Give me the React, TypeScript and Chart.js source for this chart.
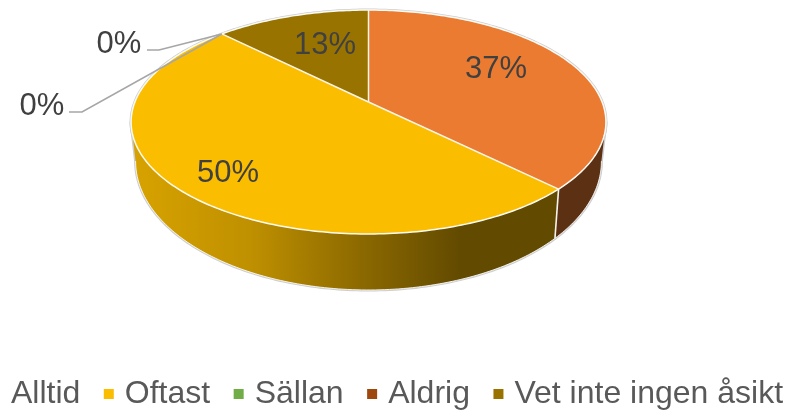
import React, { useEffect, useRef } from "react";
import { Chart, registerables } from "chart.js";

Chart.register(...registerables);

const categories = ["Alltid", "Oftast", "Sällan", "Aldrig", "Vet inte ingen åsikt"];
const shares = [37.4, 50.1, 0, 0, 12.5];
const colours = ["#EA7B30", "#FBBD00", "#70AD47", "#9E480E", "#997300"];

// Canvas is wider than the page so the legend stays on one line and clips, as in the reference.
const PAGE_W = 793;
const PAGE_H = 410;
const CANVAS_LEFT = -91;
const CANVAS_W = 960;
const CANVAS_H = 410;

// Perspective of the pie's top face and its floor, in page pixels.
const view = {
  cx: 368.5, cy: 102, A: 233.6, B: 108.4, k: -0.1786,
  ellipseCx: 368.5, ellipseCy: 122, floorCy: 161.2, floorScale: 1.15, shrink: 0.981,
};
// Where each percentage label sits (page pixels), per category.
const labelCentres: [number, number][] = [[496, 69], [228, 173], [42, 106], [119, 44], [325, 45]];
// Elbows of leader lines for the labels that sit outside the pie.
const leaders: Record<number, [number, number][]> = {
  2: [[82, 112], [69, 112]],
  3: [[159, 50], [147, 50]],
};
const shadeStops: [number, number][] = [[131, 0.86], [250, 0.76], [370, 0.54], [460, 0.39], [610, 0.39]];

const ox = -CANVAS_LEFT;

function project(u: number, v: number) {
  const w = 1 + view.k * v;
  return { x: ox + view.cx + (view.A * u) / w, y: view.cy + (view.B * v) / w };
}
function lower(p: { x: number; y: number }) {
  const c = ox + view.ellipseCx;
  return { x: c + (p.x - c) * view.shrink, y: view.floorCy + (p.y - view.ellipseCy) * view.floorScale };
}
function rim(a0: number, a1: number) {
  const n = Math.max(2, Math.ceil(Math.abs(a1 - a0) * 60));
  const out = [];
  for (let i = 0; i <= n; i++) {
    const a = a0 + ((a1 - a0) * i) / n;
    out.push(project(Math.cos(a), Math.sin(a)));
  }
  return out;
}
function rgb(hex: string) {
  return [1, 3, 5].map((i) => parseInt(hex.slice(i, i + 2), 16));
}
// Clockwise angle range of the part of a slice's rim that faces the viewer (or null).
function frontRange(start: number, end: number): [number, number] | null {
  const right = Math.asin(-view.k);
  const left = Math.PI - right;
  const a0 = Math.max(start, right);
  const a1 = Math.min(end, left);
  return a1 > a0 ? [a0, a1] : null;
}

const pie3d = {
  id: "pie3d",
  beforeDatasetDraw(chart: any, args: any) {
    const ctx: CanvasRenderingContext2D = chart.ctx;
    const arcs = args.meta.data;
    const values: number[] = chart.data.datasets[0].data;
    const total = values.reduce((s, n) => s + n, 0);

    // Side walls
    ctx.save();
    const walls: { i: number; top: { x: number; y: number }[]; bottom: { x: number; y: number }[] }[] = [];
    arcs.forEach((arc: any, i: number) => {
      if (arc.endAngle - arc.startAngle <= 0) return;
      const range = frontRange(arc.startAngle, arc.endAngle);
      if (!range) return;
      const top = rim(range[0], range[1]);
      walls.push({ i, top, bottom: top.map(lower).reverse() });
    });
    const tracePoly = (w: (typeof walls)[number]) => {
      ctx.beginPath();
      [...w.top, ...w.bottom].forEach((p, j) => (j ? ctx.lineTo(p.x, p.y) : ctx.moveTo(p.x, p.y)));
      ctx.closePath();
    };
    walls.forEach((w) => {
      tracePoly(w);
      ctx.lineJoin = "round";
      ctx.strokeStyle = "#cdcdcd";
      ctx.lineWidth = 3;
      ctx.stroke();
    });
    walls.forEach((w) => {
      const [r, g, b] = rgb(colours[w.i]);
      const x0 = shadeStops[0][0];
      const x1 = shadeStops[shadeStops.length - 1][0];
      const grad = ctx.createLinearGradient(ox + x0, 0, ox + x1, 0);
      shadeStops.forEach(([x, f]) => grad.addColorStop((x - x0) / (x1 - x0), `rgb(${r * f},${g * f},${b * f})`));
      tracePoly(w);
      ctx.fillStyle = grad;
      ctx.fill();
      ctx.beginPath();
      w.bottom.forEach((p, j) => (j ? ctx.lineTo(p.x, p.y) : ctx.moveTo(p.x, p.y)));
      ctx.strokeStyle = "rgba(255,255,255,0.85)";
      ctx.lineWidth = 1;
      ctx.stroke();
    });
    arcs.forEach((arc: any) => {
      if (arc.endAngle - arc.startAngle <= 0) return;
      const a = arc.endAngle;
      if (Math.sin(a) <= 0.2) return;
      const p = project(Math.cos(a), Math.sin(a));
      const q = lower(p);
      ctx.beginPath();
      ctx.moveTo(p.x, p.y);
      ctx.lineTo(q.x, q.y);
      ctx.strokeStyle = "#f4f4ee";
      ctx.lineWidth = 1.6;
      ctx.stroke();
    });
    ctx.restore();

    // Top face: the library's own arcs, drawn through a band-wise perspective transform.
    const first = arcs.find((a: any) => a.endAngle - a.startAngle > 0);
    const R: number = first.outerRadius;
    const px: number = first.x;
    const py: number = first.y;
    const yTop = Math.floor(project(0, -1).y) - 1;
    const yBot = Math.ceil(project(0, 1).y) + 1;
    for (let Y = yTop; Y < yBot; Y++) {
      const yc = Y + 0.5;
      const D = yc - view.cy;
      const v = D / (view.B - view.k * D);
      const w = 1 + view.k * v;
      const a = view.A / (w * R);
      const d = view.B / (w * w * R);
      ctx.save();
      ctx.beginPath();
      ctx.rect(0, Y, CANVAS_W, 1);
      ctx.clip();
      ctx.setTransform(a, 0, 0, d, ox + view.cx - a * px, yc - d * (py + v * R));
      arcs.forEach((arc: any) => arc.draw(ctx));
      ctx.restore();
    }

    // Rim and slice edges
    ctx.save();
    const whole = rim(0, Math.PI * 2);
    const trace = () => {
      ctx.beginPath();
      whole.forEach((p, j) => (j ? ctx.lineTo(p.x, p.y) : ctx.moveTo(p.x, p.y)));
      ctx.closePath();
    };
    trace();
    ctx.strokeStyle = "#cdcdcd";
    ctx.lineWidth = 3;
    ctx.globalCompositeOperation = "destination-over";
    ctx.stroke();
    ctx.globalCompositeOperation = "source-over";
    trace();
    ctx.strokeStyle = "#fbfbf6";
    ctx.lineWidth = 1.5;
    ctx.stroke();
    const hub = project(0, 0);
    arcs.forEach((arc: any) => {
      if (arc.endAngle - arc.startAngle <= 0) return;
      const p = project(Math.cos(arc.startAngle), Math.sin(arc.startAngle));
      ctx.beginPath();
      ctx.moveTo(hub.x, hub.y);
      ctx.lineTo(p.x, p.y);
      ctx.strokeStyle = "#fbf6ea";
      ctx.lineWidth = 1.5;
      ctx.stroke();
    });

    // Leader lines start on the rim at the slice's own angle
    arcs.forEach((arc: any, i: number) => {
      const elbow = leaders[i];
      if (!elbow) return;
      const s = project(Math.cos(arc.startAngle), Math.sin(arc.startAngle));
      ctx.beginPath();
      ctx.moveTo(s.x, s.y);
      elbow.forEach(([x, y]) => ctx.lineTo(ox + x, y));
      ctx.strokeStyle = "#a6a6a6";
      ctx.lineWidth = 1.6;
      ctx.stroke();
    });

    // Percentage labels
    ctx.font = "31px 'Liberation Sans'";
    ctx.fillStyle = "#404040";
    ctx.textAlign = "center";
    ctx.textBaseline = "middle";
    values.forEach((n, i) => {
      ctx.fillText(`${Math.round((n / total) * 100)}%`, ox + labelCentres[i][0], labelCentres[i][1]);
    });
    ctx.restore();
    return false;
  },
};

export default function App() {
  const ref = useRef<HTMLCanvasElement>(null);
  useEffect(() => {
    const chart = new Chart(ref.current!, {
      type: "pie",
      data: {
        labels: categories,
        datasets: [{ data: shares, backgroundColor: colours, borderWidth: 0 }],
      },
      options: {
        animation: false,
        responsive: false,
        events: [],
        layout: { padding: { bottom: -10 } },
        plugins: {
          tooltip: { enabled: false },
          legend: {
            position: "bottom",
            labels: {
              usePointStyle: true,
              pointStyle: "rect",
              boxWidth: 0.01,
              boxHeight: 10,
              padding: 28.5,
              color: "#595959",
              font: { family: "'Liberation Sans'", size: 32 },
            },
          },
        },
      } as any,
      plugins: [pie3d as any],
    });
    return () => chart.destroy();
  }, []);
  return (
    <div style={{ position: "fixed", left: 0, top: 0, width: PAGE_W, height: PAGE_H, overflow: "hidden", background: "#fff" }}>
      <canvas ref={ref} width={CANVAS_W} height={CANVAS_H} style={{ position: "absolute", left: CANVAS_LEFT, top: 0 }} />
    </div>
  );
}
